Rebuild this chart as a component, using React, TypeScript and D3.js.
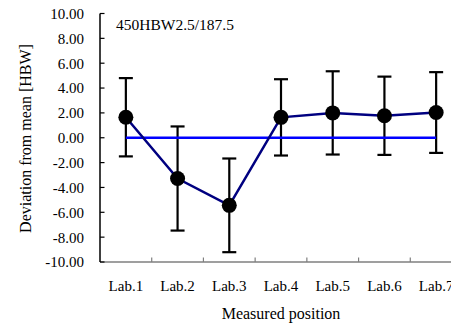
import React from "react";
import * as d3 from "d3";

const labs = ["Lab.1", "Lab.2", "Lab.3", "Lab.4", "Lab.5", "Lab.6", "Lab.7"];
const means = [1.65, -3.28, -5.44, 1.64, 2.0, 1.77, 2.03];
const errors = [3.15, 4.19, 3.77, 3.07, 3.35, 3.15, 3.25];
const zeroLine = [0, 0, 0, 0, 0, 0, 0];
const yTicks = [10, 8, 6, 4, 2, 0, -2, -4, -6, -8, -10];
const titleText = "450HBW2.5/187.5";
const xTitle = "Measured position";
const yTitle = "Deviation from mean [HBW]";

const W = 451;
const H = 328;
const FONT = "'Liberation Serif', 'Times New Roman', serif";

export default function App() {
  const x = d3.scaleBand<string>().domain(labs).range([100, 462]).paddingInner(0).paddingOuter(0);
  const y = d3.scaleLinear().domain([-10, 10]).range([262, 13.5]);
  const cx = (l: string) => (x(l) as number) + x.bandwidth() / 2;

  const meanLine = d3
    .line<number>()
    .x((_, i) => cx(labs[i]))
    .y((d) => y(d));

  const boundaries = labs.slice(1).map((l) => x(l) as number);

  return (
    <svg
      width={W}
      height={H}
      style={{ position: "absolute", left: 0, top: 0, background: "#fff" }}
      fontFamily={FONT}
    >
      <rect x={0} y={0} width={W} height={H} fill="#fff" />
      {/* x axis */}
      <line x1={100} x2={462} y1={y(-10)} y2={y(-10)} stroke="#7f7f7f" strokeWidth={1.5} />
      {boundaries.map((b, i) => (
        <line key={i} x1={b} x2={b} y1={y(-10)} y2={y(-10) - 4.5} stroke="#7f7f7f" strokeWidth={1.2} />
      ))}
      {/* y axis */}
      <line x1={100} x2={100} y1={y(10)} y2={y(-10)} stroke="#000" strokeWidth={1.5} />
      {yTicks.map((t) => (
        <g key={t}>
          <line x1={100} x2={104.5} y1={y(t)} y2={y(t)} stroke="#000" strokeWidth={1.2} />
          <text x={84} y={y(t)} dy="0.36em" textAnchor="end" fontSize={15} fill="#000">
            {t.toFixed(2)}
          </text>
        </g>
      ))}
      {labs.map((l) => (
        <text key={l} x={cx(l)} y={291} textAnchor="middle" fontSize={15} fill="#000">
          {l}
        </text>
      ))}
      <text x={281} y={318.5} textAnchor="middle" fontSize={16} fill="#000">
        {xTitle}
      </text>
      <text
        transform={`translate(30.5, ${138.5}) rotate(-90)`}
        textAnchor="middle"
        fontSize={16}
        fill="#000"
      >
        {yTitle}
      </text>
      <text x={116} y={30} fontSize={15.5} fill="#000">
        {titleText}
      </text>
      {/* error bars */}
      {labs.map((l, i) => {
        const c = cx(l);
        const top = y(means[i] + errors[i]);
        const bot = y(means[i] - errors[i]);
        return (
          <g key={l} stroke="#000" strokeWidth={2.2}>
            <line x1={c} x2={c} y1={top} y2={bot} />
            <line x1={c - 7} x2={c + 7} y1={top} y2={top} />
            <line x1={c - 7} x2={c + 7} y1={bot} y2={bot} />
          </g>
        );
      })}
      {/* zero line */}
      <path d={meanLine(zeroLine) || ""} fill="none" stroke="#0000ff" strokeWidth={2.5} />
      {/* mean line */}
      <path d={meanLine(means) || ""} fill="none" stroke="#000080" strokeWidth={2.5} />
      {labs.map((l, i) => (
        <circle key={l} cx={cx(l)} cy={y(means[i])} r={7.5} fill="#000" />
      ))}
    </svg>
  );
}
